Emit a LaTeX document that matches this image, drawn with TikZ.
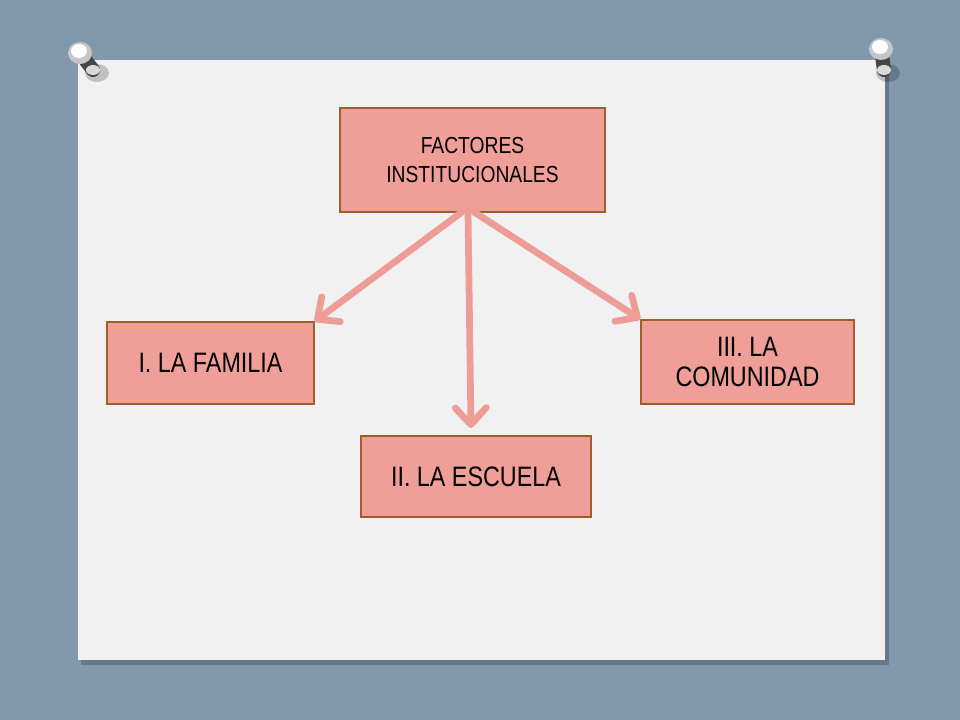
\documentclass[tikz,border=0pt]{standalone}
\usepackage{fontspec}
\setmainfont{Liberation Sans}[FakeStretch=0.83]
\usetikzlibrary{arrows.meta}
\definecolor{slate}{HTML}{8198AD}
\definecolor{paper}{HTML}{F1F1F1}
\definecolor{boxfill}{HTML}{EF9F98}
\definecolor{boxline}{HTML}{9E5F2A}
\definecolor{arrowpink}{HTML}{EE9C96}
\tikzset{
  factbox/.style={shape=rectangle,draw=boxline,line width=1pt,fill=boxfill,align=center,inner sep=0pt},
  link/.style={draw=arrowpink,line width=4.8pt,line cap=round,-{Straight Barb[length=12pt,width=22pt,line cap=round,line join=round]}},
}
% pushpin: head, foot
\newcommand\pushpin[2]{
  \fill[black,opacity=0.2] #2 ++(4,3) ellipse [x radius=12, y radius=9];
  \draw[gray!55!black,line width=10pt,line cap=round] #1 -- #2;
  \fill[gray!30] #2 ellipse [x radius=7, y radius=5];
  \fill[gray!45] #1 ellipse [x radius=12, y radius=11];
  \fill[white] #1 ++(-1,-2) ellipse [x radius=8, y radius=7];
}
\begin{document}
\begin{tikzpicture}[x=0.025cm,y=-0.025cm]
  \useasboundingbox (0,0) rectangle (960,720);
  \fill[slate] (0,0) rectangle (960,720);
  % paper sheet
  \fill[black,opacity=0.2] (81,64) rectangle (889,665);
  \fill[paper] (78,60) rectangle (885,660);
  \pushpin{(80,53)}{(93,70)}
  \pushpin{(881,49)}{(884,70)}

  \node[factbox,minimum width=6.625cm,minimum height=2.6cm,font=\fontsize{16.5}{20}\selectfont] (fact) at (472.5,160) {FACTORES\\INSTITUCIONALES};

  \node[factbox,minimum width=5.175cm,minimum height=2.05cm,font=\fontsize{20}{21}\selectfont] (fam) at (210.5,363) {I. LA FAMILIA};
  \node[factbox,minimum width=5.75cm,minimum height=2.025cm,font=\fontsize{20}{21}\selectfont] (esc) at (476,476.5) {II. LA ESCUELA};
  \node[factbox,minimum width=5.325cm,minimum height=2.1cm,font=\fontsize{20}{21}\selectfont] (com) at (747.5,362) {III. LA\\COMUNIDAD};

  \coordinate (outA) at (462,212);
  \coordinate (outB) at (468,212);
  \coordinate (outC) at (474,212);
  \coordinate (inB) at (471,428);

  \draw[link] (outA) -- (fam.north east);
  \draw[link] (outB) -- (inB);
  \draw[link] (outC) -- (com.north west);
\end{tikzpicture}
\end{document}
